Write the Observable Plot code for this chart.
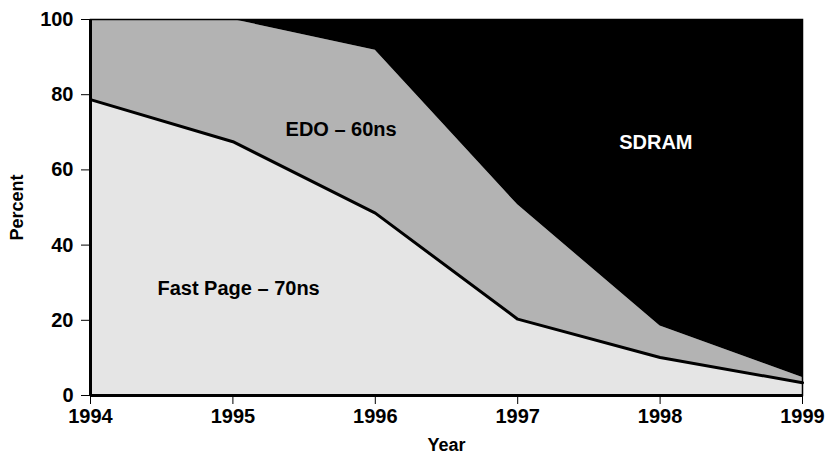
<!DOCTYPE html>
<html>
<head>
<meta charset="utf-8">
<script src="https://cdn.jsdelivr.net/npm/d3@7"></script>
<script src="https://cdn.jsdelivr.net/npm/@observablehq/plot@0.6"></script>
<style>
  html, body { margin: 0; padding: 0; background: #fff; }
  #chart svg { display: block; font-family: "Liberation Sans", Arial, sans-serif; }
</style>
</head>
<body>
<div id="chart"></div>
<script>
const years = [1994, 1995, 1996, 1997, 1998, 1999];
const fastPage = [78.7, 67.5, 48.5, 20.3, 10.1, 3.4];
const edo = [21.3, 32.5, 43.3, 30.4, 8.4, 1.4];
const sdram = [0, 0, 8.2, 49.3, 81.5, 95.2];
const seriesNames = ["Fast Page – 70ns", "EDO – 60ns", "SDRAM"];
const seriesValues = [fastPage, edo, sdram];
const xTicks = [1994, 1995, 1996, 1997, 1998, 1999];
const yTicks = [0, 20, 40, 60, 80, 100];

const long = [];
seriesNames.forEach((name, i) => {
  years.forEach((yr, j) => long.push({year: yr, type: name, value: seriesValues[i][j]}));
});
const lineData = years.map((yr, j) => ({year: yr, value: fastPage[j]}));

const labels = [
  {text: "Fast Page – 70ns", year: 1995.04, pct: 28.5},
  {text: "EDO – 60ns", year: 1995.76, pct: 70.8},
  {text: "SDRAM", year: 1997.97, pct: 67.2}
];

const chart = Plot.plot({
  width: 829,
  height: 455,
  marginLeft: 90,
  marginRight: 27,
  marginTop: 19,
  marginBottom: 60,
  x: {domain: [1994, 1999]},
  y: {domain: [0, 100]},
  color: {domain: seriesNames, range: ["#e5e5e5", "#b3b3b3", "#000000"]},
  marks: [
    Plot.areaY(long, {x: "year", y: "value", fill: "type", order: seriesNames}),
    Plot.lineY(lineData, {x: "year", y: "value", stroke: "#000", strokeWidth: 3}),
    Plot.text(labels, {x: "year", y: "pct", text: "text", fill: (d) => d.text === "SDRAM" ? "#fff" : "#000",
      fontSize: 20, fontWeight: "bold"}),
    Plot.frame({stroke: "#000", strokeWidth: 1.5}),
    Plot.ruleX([1994], {stroke: "#000", strokeWidth: 3}),
    Plot.ruleY([0], {stroke: "#000", strokeWidth: 3}),
    Plot.axisX({ticks: xTicks, tickFormat: "d", tickSize: 9, tickPadding: 4, fontSize: 20, fontWeight: "bold",
      label: "Year", labelAnchor: "center", labelArrow: "none", labelOffset: 55}),
    Plot.axisY({ticks: yTicks, tickSize: 9, tickPadding: 8, fontSize: 20, fontWeight: "bold",
      label: "Percent", labelAnchor: "center", labelArrow: "none", labelOffset: 80})
  ]
});
chart.querySelectorAll("g[aria-label='x-axis label'] text, g[aria-label='y-axis label'] text").forEach(t => {
  t.setAttribute("font-size", "18");
  t.setAttribute("font-weight", "bold");
});
document.getElementById("chart").appendChild(chart);
</script>
</body>
</html>
